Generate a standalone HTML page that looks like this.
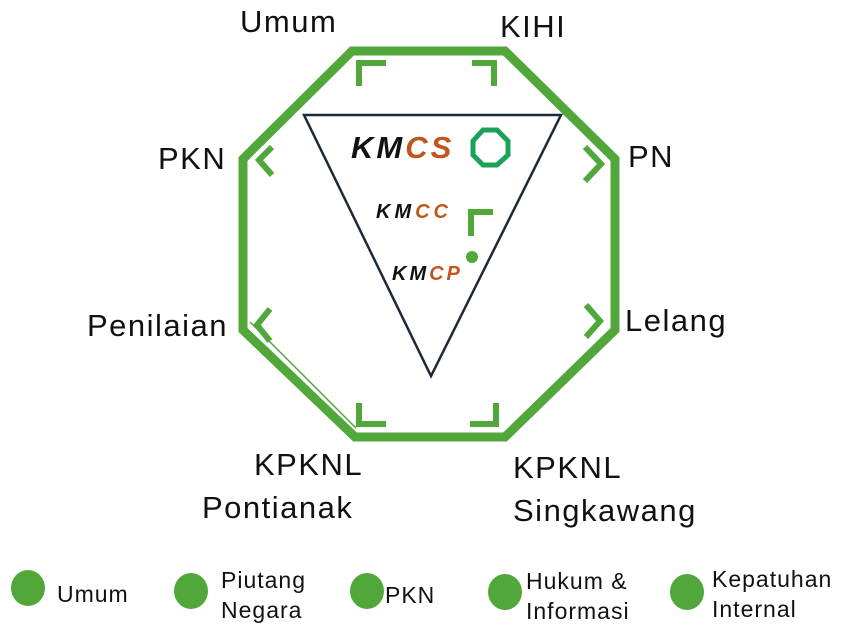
<!DOCTYPE html>
<html><head><meta charset="utf-8"><style>
html,body{margin:0;padding:0;background:#fff;width:852px;height:634px;overflow:hidden}
svg{display:block}
text{font-family:"Liberation Sans",sans-serif}
</style></head><body>
<svg width="852" height="634" viewBox="0 0 852 634">
<polygon points="352,51 505,51 615,159 615,330 505,437 355,437 243,330 243,159" fill="none" stroke="#52a73a" stroke-width="9"/>
<polyline points="250,322 356,428" fill="none" stroke="#52a73a" stroke-width="1.5"/>
<g fill="none" stroke="#52a73a" stroke-width="6" stroke-linejoin="miter">
<polyline points="386,63 359,63 359,86" />
<polyline points="472,63 494,63 494,86" />
<polyline points="272,147 259,160 272,175" />
<polyline points="585,147 601,164 585,181" />
<polyline points="270,309 257,325 270,341" />
<polyline points="586,305 600,321 586,337" />
<polyline points="359,403 359,424 386,424" />
<polyline points="496,403 496,424 470,424" />
<polyline points="493,212 471,212 471,236" />
</g>
<polygon points="304,115 561,115 431,376" fill="none" stroke="#1b2a3a" stroke-width="2.5"/>
<text x="351" y="158" font-size="31" font-weight="bold" font-style="italic" letter-spacing="3" fill="#111">KM<tspan fill="#c0561e">CS</tspan></text>
<polygon points="483,130 497,130 508,141 508,155 497,165 483,165 473,155 473,141" fill="none" stroke="#1aa358" stroke-width="5"/>
<text x="376" y="218" font-size="20" font-weight="bold" font-style="italic" letter-spacing="4" fill="#111">KM<tspan fill="#c0561e">CC</tspan></text>
<circle cx="472" cy="257" r="6" fill="#52a73a"/>
<text x="392" y="280" font-size="20" font-weight="bold" font-style="italic" letter-spacing="3" fill="#111">KM<tspan fill="#c0561e">CP</tspan></text>
<g font-size="31" fill="#111" letter-spacing="1.5">
<text x="240" y="32">Umum</text>
<text x="500" y="37">KIHI</text>
<text x="158" y="169">PKN</text>
<text x="628" y="167">PN</text>
<text x="87" y="336">Penilaian</text>
<text x="625" y="331">Lelang</text>
<text x="254" y="475">KPKNL</text>
<text x="202" y="518">Pontianak</text>
<text x="513" y="478">KPKNL</text>
<text x="513" y="521">Singkawang</text>
</g>
<g fill="#52a73a">
<ellipse cx="28" cy="588" rx="17" ry="18"/>
<ellipse cx="191" cy="591" rx="17" ry="18"/>
<ellipse cx="367" cy="591" rx="17" ry="18"/>
<ellipse cx="505" cy="592" rx="17" ry="18"/>
<ellipse cx="687" cy="592" rx="17" ry="18"/>
</g>
<g font-size="23" fill="#111" letter-spacing="1">
<text x="57" y="602">Umum</text>
<text x="221" y="588">Piutang</text>
<text x="221" y="618">Negara</text>
<text x="385" y="603">PKN</text>
<text x="526" y="589">Hukum &amp;</text>
<text x="526" y="619">Informasi</text>
<text x="712" y="587">Kepatuhan</text>
<text x="712" y="617">Internal</text>
</g>
</svg>
</body></html>
